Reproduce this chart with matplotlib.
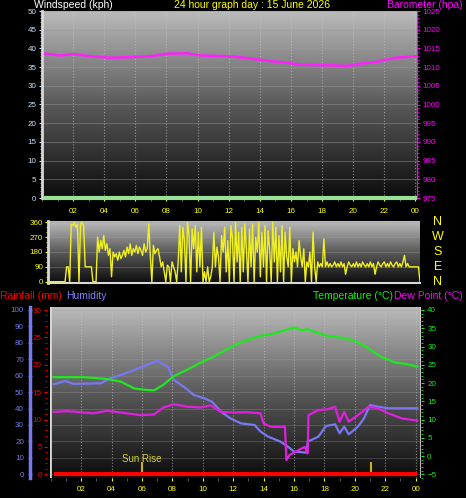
import numpy as np
import matplotlib
matplotlib.use("Agg")
import matplotlib.pyplot as plt
from matplotlib.colors import LinearSegmentedColormap
from matplotlib.ticker import MultipleLocator
from matplotlib.transforms import blended_transform_factory

plt.rcParams['font.family'] = ['Liberation Sans', 'DejaVu Sans']

# ---- data ----
baro_hours = [0.2, 1.2, 2.0, 3.1, 4.4, 5.9, 7.0, 8.1, 9.3, 10.2, 11.3, 12.3,
              13.2, 14.5, 15.8, 16.8, 18.3, 19.6, 20.4, 21.5, 22.2, 23.0, 24.0]
baro_hpa = [1013.6, 1013.1, 1013.5, 1012.9, 1012.5, 1012.7, 1012.9, 1013.6,
            1013.7, 1013.1, 1013.0, 1012.8, 1012.4, 1011.7, 1011.1, 1010.6,
            1010.5, 1010.3, 1010.9, 1011.4, 1012.1, 1012.6, 1012.9]
wind_hours = [0.2, 24.0]
wind_kph = [0, 0]

# wind direction, one value every 6 minutes from 00:00 to 24:00
dir_deg = [
    0, 0, 0, 0, 0, 0, 0, 0, 0, 0,
    0, 0, 90, 90, 0, 350, 340, 360, 330, 350,
    0, 350, 360, 340, 90, 90, 90, 90, 90, 0,
    0, 0, 270, 180, 250, 200, 280, 190, 230, 160,
    200, 30, 180, 150, 170, 130, 180, 140, 160, 190,
    150, 210, 170, 230, 160, 200, 180, 220, 170, 210,
    190, 160, 230, 180, 200, 350, 160, 0, 220, 170,
    190, 200, 150, 90, 120, 60, 0, 100, 90, 0,
    120, 90, 60, 0, 120, 340, 60, 330, 250, 0,
    360, 280, 0, 320, 200, 340, 60, 300, 90, 330,
    0, 60, 0, 90, 0, 30, 90, 300, 90, 210,
    150, 0, 280, 180, 330, 60, 250, 0, 340, 270,
    0, 360, 120, 300, 0, 330, 60, 350, 200, 0,
    320, 90, 350, 0, 270, 180, 360, 30, 300, 90,
    340, 0, 310, 200, 0, 360, 120, 330, 0, 280,
    60, 340, 0, 300, 150, 90, 330, 0, 200, 120,
    180, 90, 250, 150, 90, 200, 0, 120, 90, 180,
    0, 300, 90, 0, 120, 90, 110, 90, 260, 90,
    120, 90, 110, 90, 100, 120, 90, 110, 90, 120,
    90, 110, 45, 90, 120, 100, 90, 110, 90, 120,
    90, 110, 90, 120, 100, 90, 110, 90, 120, 90,
    110, 45, 90, 120, 100, 90, 110, 120, 90, 110,
    90, 120, 100, 90, 110, 120, 90, 110, 90, 120,
    160, 90, 110, 90, 90, 90, 90, 90, 90, 90,
    0]
dir_hours = np.arange(len(dir_deg)) * 0.1

temp_hours = [0.2, 2.2, 3.7, 4.6, 5.5, 6.3, 6.8, 7.4, 8.1, 9.0, 9.9, 10.7,
              11.4, 12.1, 12.9, 13.8, 14.7, 15.6, 16.0, 16.5, 16.9, 17.3,
              18.2, 19.1, 20.0, 20.9, 21.7, 22.6, 23.5, 24.1]
temp_c = [21.6, 21.6, 21.1, 20.4, 18.5, 18.1, 18.0, 19.5, 21.9, 23.7, 25.7,
          27.2, 28.8, 30.4, 31.8, 32.9, 33.6, 34.7, 35.2, 34.5, 34.7, 34.1,
          32.9, 32.4, 31.6, 29.5, 27.2, 25.7, 25.1, 24.5]

hum_hours = [0.2, 0.95, 1.5, 3.3, 3.9, 4.6, 5.5, 6.3, 7.0, 7.7, 8.1, 8.8, 9.4,
             10.1, 10.6, 11.2, 11.8, 12.5, 13.4, 13.8, 14.3, 15.1, 15.6, 16.0,
             16.8, 16.9, 17.6, 18.1, 18.7, 19.0, 19.3, 19.6, 20.2, 20.6, 21.0,
             21.5, 22.2, 24.1]
hum_pct = [54.8, 56.8, 55.0, 55.4, 58.4, 60.4, 63.5, 66.5, 69.0, 65.5, 57.4,
           52.9, 48.3, 46.2, 44.2, 38.1, 34.1, 31.0, 30.0, 26.0, 22.9, 19.9,
           16.8, 13.8, 13.2, 19.9, 22.9, 29.4, 30.4, 25.0, 29.0, 24.3, 29.0,
           34.0, 42.2, 41.2, 40.2, 40.2]

dew_hours = [0.2, 1.1, 2.8, 3.7, 5.0, 5.9, 6.8, 7.4, 8.1, 9.0, 9.9, 10.5,
             11.2, 12.1, 12.9, 13.8, 14.0, 14.5, 15.4, 15.5, 15.7, 16.1,
             16.7, 16.9, 16.95, 17.6, 18.2, 18.7, 19.0, 19.3, 19.6, 20.2,
             20.9, 21.5, 22.2, 23.1, 24.1]
dew_c = [12.1, 12.3, 11.7, 12.4, 11.7, 11.2, 11.4, 13.3, 14.2, 13.5, 13.3,
         13.9, 12.1, 11.9, 12.0, 11.7, 8.9, 8.0, 8.0, -1.1, 0.3, 1.2, 2.5,
         0.7, 11.2, 12.6, 12.8, 13.5, 9.4, 12.1, 9.4, 11.2, 13.5, 13.1, 11.7,
         10.3, 9.7]

rain_hours = [0.2, 24.1]
rain_mm = [0, 0]

sunrise = 6.0
sunset = 21.08
hour_ticks = list(range(2, 25, 2))
hour_labels = ['%02d' % (h % 24) for h in hour_ticks]
compass = ['N', 'E', 'S', 'W', 'N']

# ---- figure ----
W, H = 466, 498
fig = plt.figure(figsize=(W / 100, H / 100), dpi=100, facecolor='black')


def box(left, top, right, bottom):
    return [left / W, 1 - bottom / H, (right - left) / W, (bottom - top) / H]


bg = LinearSegmentedColormap.from_list('bg', ['#0c0c0c', '#5a5a5a', '#bcbcbc'])
grad = np.linspace(1, 0, 256).reshape(-1, 1)


def backdrop(ax):
    ax.set_facecolor('black')
    ax.imshow(grad, cmap=bg, extent=[0, 1, 0, 1], transform=ax.transAxes,
              aspect='auto', zorder=0, vmin=0, vmax=1)


YEL = '#ffff00'
MAG = '#ff00ff'
BLUE = '#7878f0'
GREEN = '#20e820'
RED = '#ff0000'
tfs = 5.8

# top panel: windspeed / barometer
ax1 = fig.add_axes(box(42, 11, 417, 198))
backdrop(ax1)
ax1.plot(wind_hours, wind_kph, color='#98e098', lw=3, zorder=3, clip_on=False)
ax1.set_xlim(0, 24.1)
ax1.set_ylim(0, 50)
ax1.yaxis.set_major_locator(MultipleLocator(5))
ax1.yaxis.set_minor_locator(MultipleLocator(1))
ax1.set_xticks(hour_ticks)
ax1.set_xticklabels(hour_labels)
ax1.xaxis.set_minor_locator(MultipleLocator(1))
ax1.tick_params(axis='y', which='both', colors='#c8e0f8', labelsize=tfs, length=2.5, pad=1.5)
ax1.tick_params(axis='y', which='minor', length=1.5, colors='#a0a0a0')
ax1.tick_params(axis='x', which='both', colors=YEL, labelsize=tfs, length=2, pad=5)
ax1.tick_params(axis='x', which='minor', colors='#808080')
ax1.grid(axis='x', color='#c8c8c8', ls=':', lw=0.8, alpha=0.6)
ax1.grid(axis='y', color='#9a9a9a', ls='-', lw=0.7, alpha=0.45)
for s in ['top', 'right']:
    ax1.spines[s].set_visible(False)
ax1.spines['left'].set_color('#d8d8d8')
ax1.spines['left'].set_linewidth(2)
ax1.spines['bottom'].set_color('#d8d8d8')
ax1.spines['bottom'].set_linewidth(1)

ax1b = ax1.twinx()
ax1b.plot(baro_hours, baro_hpa, color='#ff20ff', lw=1.8, zorder=3)
ax1b.set_ylim(975, 1025)
ax1b.yaxis.set_major_locator(MultipleLocator(5))
ax1b.yaxis.set_minor_locator(MultipleLocator(1))
ax1b.tick_params(axis='y', which='both', colors=MAG, labelsize=tfs, length=2.5, pad=1.5)
ax1b.tick_params(axis='y', which='minor', length=1.5)
for s in ['top', 'left', 'bottom']:
    ax1b.spines[s].set_visible(False)
ax1b.spines['right'].set_color(MAG)

# middle panel: wind direction
ax2 = fig.add_axes(box(48, 221, 420, 283))
backdrop(ax2)
ax2.plot(dir_hours, dir_deg, color='#f0f020', lw=1.0, zorder=3)
ax2.set_xlim(0, 24)
ax2.set_ylim(-8, 368)
ax2.set_yticks([0, 90, 180, 270, 360])
ax2.yaxis.set_minor_locator(MultipleLocator(30))
ax2.set_xticks([])
ax2.tick_params(axis='y', which='both', colors=YEL, labelsize=tfs, length=2, pad=1.5)
ax2.tick_params(axis='y', which='minor', length=1.5)
ax2.grid(axis='y', color='#a0a0a0', ls='-', lw=0.6, alpha=0.4)
for s in ['top', 'right']:
    ax2.spines[s].set_visible(False)
ax2.spines['left'].set_color('#d8d8d8')
ax2.spines['left'].set_linewidth(2)
ax2.spines['bottom'].set_color('#d8d8d8')
ax2.spines['bottom'].set_linewidth(1.5)
trans = blended_transform_factory(fig.transFigure, ax2.transData)
for deg, name in zip([0, 90, 180, 270, 360], compass):
    ax2.text(438 / W, deg, name, transform=trans, color=YEL, fontsize=9,
             ha='center', va='center')

# bottom panel: humidity / rain / temperature / dew point
ax3 = fig.add_axes(box(50, 307, 421, 478))
backdrop(ax3)
ax3.plot(hum_hours, hum_pct, color=BLUE, lw=1.6, zorder=3)
ax3.set_xlim(-0.05, 24.35)
ax3.set_ylim(-2.25, 101.8)
ax3.yaxis.set_major_locator(MultipleLocator(10))
ax3.yaxis.set_minor_locator(MultipleLocator(2))
ax3.set_xticks(hour_ticks)
ax3.set_xticklabels(hour_labels)
ax3.xaxis.set_minor_locator(MultipleLocator(1))
ax3.tick_params(axis='x', which='both', colors=YEL, labelsize=tfs, length=2, pad=4)
ax3.tick_params(axis='x', which='minor', colors='#606060')
ax3.tick_params(axis='y', which='both', colors=BLUE, labelsize=tfs, length=2.5, pad=3, direction='inout')
ax3.tick_params(axis='y', which='minor', length=1.5)
ax3.grid(axis='x', color='#c8c8c8', ls=':', lw=0.8, alpha=0.6)
ax3.grid(axis='y', color='#9a9a9a', ls='-', lw=0.6, alpha=0.35)
for s in ['top', 'right', 'bottom']:
    ax3.spines[s].set_visible(False)
ax3.spines['left'].set_position(('outward', 14.5))
ax3.spines['left'].set_color(BLUE)
ax3.spines['left'].set_linewidth(2.5)
# light frame edges of the plotting area
ax3.axvline(-0.05, color='#d8d8d8', lw=2, zorder=4)
ax3.axvline(24.35, color='#d8d8d8', lw=1.2, zorder=4)

# sunrise / sunset marks
ax3.vlines([sunrise, sunset], 0, 7.5, color='#c8b020', lw=1.5, zorder=4)
ax3.text(sunrise, 9.5, 'Sun Rise', color='#d8d030', fontsize=7, ha='center', va='center', zorder=5)

ax3r = ax3.twinx()
ax3r.plot(rain_hours, rain_mm, color=RED, lw=3, zorder=3, solid_capstyle='butt')
ax3r.set_ylim(-0.68, 30.55)
ax3r.yaxis.set_major_locator(MultipleLocator(5))
ax3r.yaxis.set_minor_locator(MultipleLocator(1))
ax3r.yaxis.tick_left()
ax3r.tick_params(axis='y', which='both', colors=RED, labelsize=tfs, length=2.5, pad=1.5)
ax3r.tick_params(axis='y', which='minor', length=1.5)
for s in ['top', 'right', 'bottom']:
    ax3r.spines[s].set_visible(False)
ax3r.spines['left'].set_visible(True)
ax3r.spines['left'].set_position(('outward', 2))
ax3r.spines['left'].set_alpha(0)

ax3t = ax3.twinx()
ax3t.plot(temp_hours, temp_c, color=GREEN, lw=1.6, zorder=3)
ax3t.plot(dew_hours, dew_c, color='#e020e0', lw=1.6, zorder=3)
ax3t.set_ylim(-6.01, 40.82)
ax3t.yaxis.set_major_locator(MultipleLocator(5))
ax3t.yaxis.set_minor_locator(MultipleLocator(1))
ax3t.tick_params(axis='y', which='both', colors=GREEN, labelsize=tfs, length=2.5, pad=2)
ax3t.tick_params(axis='y', which='minor', length=1.5)
for s in ['top', 'left', 'bottom', 'right']:
    ax3t.spines[s].set_visible(False)

# header texts
def ftext(px, py, s, color, ha='left', size=7.5):
    fig.text(px / W, 1 - py / H, s, color=color, fontsize=size, ha=ha, va='center')


ftext(34, 5, 'Windspeed (kph)', 'white')
ftext(252, 5, '24 hour graph day : 15 June 2026', YEL, ha='center')
ftext(463, 5, 'Barometer (hpa)', MAG, ha='right')
ftext(0, 296, 'Rainfall (mm)', RED)
ftext(66, 296, 'Humidity', '#8080ff')
ftext(313, 296, 'Temperature (°C)', '#00ff00')
ftext(394, 296, 'Dew Point (°C)', MAG)

fig.savefig('out.png', dpi=100, facecolor='black')
